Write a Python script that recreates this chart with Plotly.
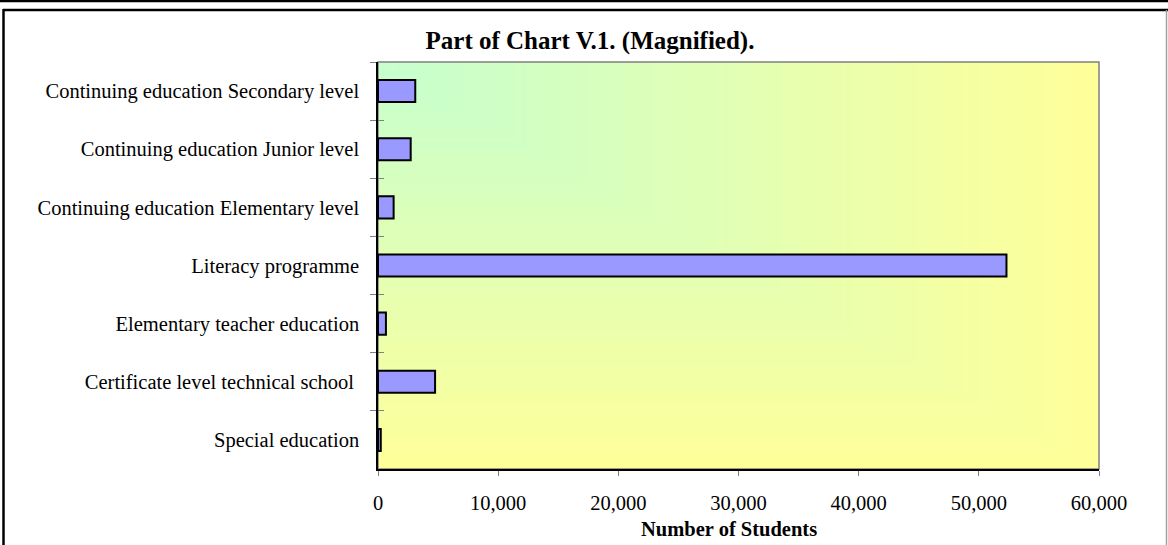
import zlib, struct, base64
import plotly.graph_objects as go

# ---- data ----
categories = [
    "Continuing education Secondary level",
    "Continuing education Junior level",
    "Continuing education Elementary level",
    "Literacy programme",
    "Elementary teacher education",
    "Certificate level technical school\u00a0",
    "Special education",
]
students = [3100, 2720, 1300, 52300, 660, 4750, 230]
x_tick_values = [0, 10000, 20000, 30000, 40000, 50000, 60000]
x_tick_labels = ["0", "10,000", "20,000", "30,000", "40,000", "50,000", "60,000"]

title_text = "<b>Part of Chart V.1. (Magnified).</b>"
x_title = "<b>Number of Students</b>"

# ---- layout geometry ----
FIG_W, FIG_H = 1168, 545
L, R, T, B = 378, 1099, 62, 469


def px_x(p):
    return (p - L) / (R - L)


def px_y(p):
    return (B - p) / (B - T)


# ---- gradient background image (style only) ----
def gradient_png(w, h, c0, c1):
    rows = []
    for j in range(h):
        row = bytearray([0])
        for i in range(w):
            t = max(i / (w - 1), j / (h - 1))
            for k in range(3):
                row.append(int(round(c0[k] + (c1[k] - c0[k]) * t)))
        rows.append(bytes(row))

    def chunk(tag, data):
        return (struct.pack(">I", len(data)) + tag + data
                + struct.pack(">I", zlib.crc32(tag + data) & 0xFFFFFFFF))

    png = (b"\x89PNG\r\n\x1a\n"
           + chunk(b"IHDR", struct.pack(">IIBBBBB", w, h, 8, 2, 0, 0, 0))
           + chunk(b"IDAT", zlib.compress(b"".join(rows)))
           + chunk(b"IEND", b""))
    return "data:image/png;base64," + base64.b64encode(png).decode()


bg_src = gradient_png(240, 136, (198, 255, 206), (255, 255, 153))

font_family = "Liberation Serif, Times New Roman, serif"

fig = go.Figure()
fig.add_trace(go.Bar(
    x=students, y=categories, orientation="h", width=0.38,
    marker=dict(color="#9999ff", line=dict(color="black", width=2)),
    hoverinfo="x+y", showlegend=False,
))
# invisible trace to get inward half of crossing category ticks
fig.add_trace(go.Scatter(
    x=students, y=categories, yaxis="y2", mode="markers",
    marker=dict(opacity=0), hoverinfo="skip", showlegend=False,
))

fig.update_layout(
    width=FIG_W, height=FIG_H,
    margin=dict(l=L, r=FIG_W - R, t=T, b=FIG_H - B, pad=0, autoexpand=False),
    paper_bgcolor="white", plot_bgcolor="#ffff99",
    font=dict(family=font_family, size=20.5, color="black"),
    title=dict(text=title_text, x=590 / FIG_W, xanchor="center",
               y=1 - 40 / FIG_H, yanchor="middle", yref="container",
               font=dict(family=font_family, size=25, color="black")),
    xaxis=dict(
        range=[0, 60000], tickvals=x_tick_values, ticktext=x_tick_labels,
        showgrid=False, zeroline=False, showline=True, linecolor="black",
        linewidth=1.5, ticks="outside", ticklen=5, tickcolor="#808080",
        tickwidth=1, ticklabelstandoff=10, automargin=False,
        tickfont=dict(size=20.5),
    ),
    yaxis=dict(
        autorange="reversed", type="category", categoryorder="array",
        categoryarray=categories, tickson="boundaries", ticks="outside",
        ticklen=6, tickcolor="#808080", tickwidth=1, showgrid=False,
        showline=True, linecolor="black", linewidth=1.5, zeroline=False,
        ticklabelstandoff=13, tickfont=dict(size=20.5), automargin=False,
    ),
    yaxis2=dict(
        overlaying="y", matches="y", type="category", categoryorder="array",
        categoryarray=categories, tickson="boundaries", ticks="inside",
        ticklen=6, tickcolor="#808080", tickwidth=1, showticklabels=False,
        showgrid=False, showline=False, zeroline=False, side="left",
        automargin=False,
    ),
    annotations=[dict(text=x_title, xref="paper", yref="paper",
                      x=px_x(729), y=px_y(529), xanchor="center",
                      yanchor="middle", showarrow=False,
                      font=dict(family=font_family, size=20.5, color="black"))],
    images=[dict(source=bg_src, xref="paper", yref="paper", x=0, y=1,
                 sizex=1, sizey=1, sizing="stretch", xanchor="left",
                 yanchor="top", layer="below")],
    shapes=[
        # plot-area border (grey top/right)
        dict(type="rect", xref="paper", yref="paper", x0=0, y0=0, x1=1, y1=1,
             line=dict(color="#808080", width=1.5), layer="below"),
        # outer frame lines
        dict(type="line", xref="paper", yref="paper", x0=px_x(0), x1=px_x(FIG_W),
             y0=px_y(1), y1=px_y(1), line=dict(color="black", width=2.5)),
        dict(type="line", xref="paper", yref="paper", x0=px_x(3), x1=px_x(FIG_W),
             y0=px_y(10), y1=px_y(10), line=dict(color="black", width=2.5)),
        dict(type="line", xref="paper", yref="paper", x0=px_x(3.5), x1=px_x(3.5),
             y0=px_y(9), y1=px_y(FIG_H), line=dict(color="black", width=2.5)),
        dict(type="line", xref="paper", yref="paper", x0=px_x(1166.5), x1=px_x(1166.5),
             y0=px_y(10), y1=px_y(FIG_H), line=dict(color="#a0a0a0", width=1.5)),
    ],
)

fig.write_html("out.html", config={"displayModeBar": False},
               post_script="document.body.style.margin='0';")
